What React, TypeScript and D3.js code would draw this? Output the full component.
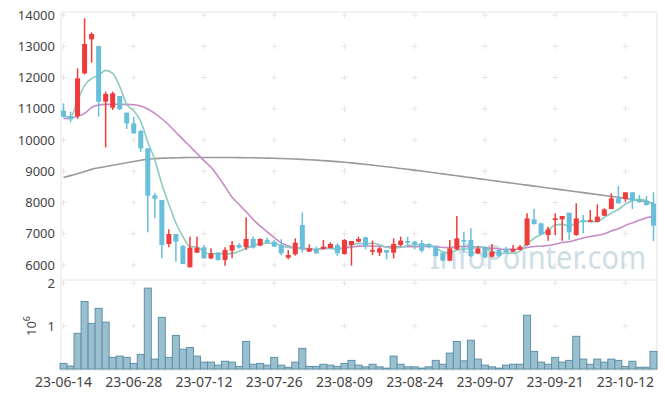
import React from 'react';
import * as d3 from 'd3';

// OHLC, one entry per trading day (23-06-14 .. 23-10-18)
const opens = [10939, 10768, 10760, 12133, 13221, 13008, 11227, 11035, 11408, 10875, 10533, 10288, 9733, 8229, 8080, 6672, 6992, 6608, 5925, 6395,
  6565, 6213, 6395, 6160, 6459, 6640, 6565, 6832, 6619, 6800, 6747, 6640, 6235, 6341, 7280, 6427, 6512, 6512, 6544, 6640,
  6352, 6640, 6747, 6885, 6427, 6395, 6480, 6395, 6640, 6768, 6747, 6693, 6672, 6587, 6395, 6139, 6501, 6800, 6800, 6373,
  6565, 6267, 6480, 6512, 6427, 6480, 6640, 7461, 7333, 6960, 7440, 7461, 7675, 6960, 7440, 7387, 7387, 7579, 7792, 8133,
  8112, 8325, 8059, 8059, 7968];
const highs = [11173, 10907, 12293, 13893, 13445, 13008, 11547, 11547, 11408, 10875, 10747, 10320, 9733, 8315, 8080, 7141, 6992, 6640, 6907, 6907,
  6640, 6533, 6400, 6565, 6768, 6693, 7525, 6907, 6860, 6875, 6800, 6821, 6480, 6853, 7685, 6661, 6587, 6800, 6725, 6693,
  6832, 6768, 6907, 6907, 6779, 6587, 6480, 6853, 6907, 6907, 6779, 6800, 6693, 6608, 6395, 6800, 7568, 7067, 7173, 6608,
  6608, 6672, 6500, 6587, 6640, 6640, 7653, 7792, 7355, 7227, 7653, 7568, 7675, 7973, 7600, 7760, 7941, 7813, 8293, 8528,
  8325, 8325, 8240, 8208, 8326];
const lows = [10715, 10565, 10680, 12100, 12475, 10747, 9765, 10960, 10960, 10352, 10200, 9627, 7045, 7493, 6213, 6565, 6107, 6032, 5925, 6395,
  6200, 6181, 6138, 5979, 6213, 6530, 6480, 6530, 6600, 6700, 6580, 6320, 6181, 6300, 6395, 6420, 6360, 6500, 6530, 6288,
  6330, 5979, 6720, 6501, 6320, 6288, 6181, 6213, 6600, 6608, 6501, 6395, 6530, 6270, 6120, 6120, 6480, 6427, 6260, 6350,
  6220, 6240, 6260, 6400, 6420, 6470, 6620, 7290, 6981, 6779, 6960, 6779, 6800, 6940, 7013, 7370, 7370, 7570, 7790, 7973,
  8027, 7792, 8000, 7900, 6768];
const closes = [10747, 10661, 11973, 13072, 13392, 11227, 11472, 11493, 10981, 10533, 10213, 9733, 8219, 8123, 6640, 6992, 6747, 6032, 6555, 6555,
  6213, 6373, 6160, 6480, 6640, 6555, 6832, 6555, 6832, 6715, 6587, 6373, 6320, 6715, 6533, 6533, 6373, 6587, 6672, 6373,
  6800, 6768, 6832, 6608, 6480, 6533, 6395, 6672, 6779, 6715, 6672, 6459, 6565, 6288, 6139, 6533, 6853, 6747, 6288, 6533,
  6245, 6427, 6288, 6405, 6512, 6587, 7493, 7312, 6981, 7141, 7493, 7568, 7045, 7493, 7387, 7440, 7547, 7781, 8133, 7973,
  8325, 8059, 8005, 7920, 7258];
const volumes = [130000, 70000, 830000, 1570000, 1060000, 1410000, 1090000, 270000, 300000, 270000, 130000, 340000, 1880000, 230000, 1200000, 270000, 780000, 460000, 500000, 300000,
  160000, 160000, 90000, 180000, 160000, 60000, 640000, 110000, 130000, 90000, 270000, 90000, 40000, 160000, 480000, 60000, 60000, 110000, 90000, 60000,
  130000, 200000, 90000, 50000, 110000, 50000, 20000, 300000, 110000, 50000, 50000, 20000, 50000, 200000, 110000, 370000, 640000, 190000, 670000, 230000,
  90000, 50000, 20000, 90000, 110000, 110000, 1250000, 410000, 160000, 110000, 270000, 160000, 200000, 760000, 230000, 110000, 230000, 160000, 230000, 200000,
  60000, 180000, 40000, 40000, 410000];

// moving average lines as drawn
const ma5 = [10760, 10740, 11260, 11750, 11969, 12065, 12227, 12131, 11713, 11141, 10938, 10591, 9936, 9364, 8586, 7941, 7344, 6907, 6593, 6576,
  6420, 6346, 6371, 6356, 6373, 6442, 6533, 6612, 6683, 6698, 6704, 6612, 6565, 6542, 6506, 6495, 6495, 6548, 6540, 6508,
  6561, 6640, 6689, 6676, 6698, 6644, 6570, 6538, 6572, 6619, 6647, 6659, 6638, 6540, 6425, 6397, 6476, 6512, 6512, 6591,
  6533, 6448, 6356, 6380, 6375, 6444, 6657, 6862, 6977, 7103, 7284, 7299, 7246, 7348, 7397, 7387, 7382, 7530, 7658, 7775,
  7952, 8054, 8099, 8056, 7913];
const ma20 = [10690, 10700, 10760, 10850, 11040, 11120, 11140, 11145, 11140, 11140, 11130, 11090, 10990, 10850, 10680, 10480, 10250, 10020, 9800, 9568,
  9341, 9127, 8836, 8507, 8169, 7935, 7703, 7457, 7249, 7058, 6877, 6709, 6614, 6544, 6538, 6515, 6497, 6524, 6530, 6521,
  6550, 6570, 6604, 6610, 6602, 6601, 6579, 6585, 6582, 6582, 6587, 6591, 6603, 6582, 6562, 6562, 6586, 6594, 6575, 6583,
  6555, 6538, 6511, 6501, 6502, 6505, 6560, 6592, 6602, 6623, 6664, 6720, 6744, 6804, 6867, 6912, 6947, 6998, 7091, 7163,
  7267, 7348, 7434, 7510, 7547];
const maLong = [8800, 8860, 8920, 8990, 9060, 9110, 9150, 9190, 9230, 9270, 9310, 9350, 9390, 9405, 9415, 9425, 9430, 9435, 9438, 9440,
  9440, 9440, 9440, 9440, 9438, 9436, 9433, 9430, 9425, 9420, 9414, 9407, 9400, 9390, 9380, 9368, 9355, 9340, 9325, 9308,
  9290, 9268, 9245, 9220, 9195, 9170, 9145, 9118, 9090, 9062, 9035, 9005, 8975, 8945, 8915, 8885, 8855, 8825, 8795, 8765,
  8735, 8705, 8675, 8645, 8615, 8585, 8555, 8525, 8495, 8465, 8435, 8405, 8375, 8345, 8315, 8285, 8255, 8225, 8195, 8165,
  8130, 8095, 8060, 8020, 7980];

const dateTickIdx = [0, 10, 20, 30, 40, 50, 60, 70, 80];
const dateTickLabels = ['23-06-14', '23-06-28', '23-07-12', '23-07-26', '23-08-09', '23-08-24', '23-09-07', '23-09-21', '23-10-12'];
const priceTicks = [6000, 7000, 8000, 9000, 10000, 11000, 12000, 13000, 14000];
const volTicks = [1000000, 2000000];
const volTickLabels = ['1', '2'];

const W = 665, H = 398;
const left = 61, right = 657, top = 12, split = 280, bottom = 370;
const font = '"Noto Sans", "Open Sans", sans-serif';
const UP = '#ef3b3b', DOWN = '#68bfd9';

export default function App() {
  const n = closes.length;
  const x = d3.scaleBand<number>().domain(d3.range(n)).range([60, 657]).padding(0);
  const cx = (i: number) => (x(i) as number) + x.bandwidth() / 2;
  const y = d3.scaleLinear().domain([6000, 14000]).range([265, 15]);
  const yv = d3.scaleLinear().domain([0, 2000000]).range([369, 283]);

  const line = (vals: number[]) => d3.line<number>().x((_, i) => cx(i)).y(d => y(d)).curve(d3.curveMonotoneX)(vals) || '';

  const cross = (px: number, py: number, k: string) => (
    <g key={k} stroke="#e6e6e6" strokeWidth={1}>
      <line x1={px - 3} x2={px + 3} y1={py} y2={py} />
      <line x1={px} x2={px} y1={py - 3} y2={py + 3} />
    </g>
  );

  const crosses: React.ReactNode[] = [];
  dateTickIdx.forEach((i) => {
    priceTicks.forEach((p) => crosses.push(cross(cx(i), y(p), `p${i}-${p}`)));
    volTicks.forEach((v) => crosses.push(cross(cx(i), yv(v), `v${i}-${v}`)));
  });

  return (
    <svg width={W} height={H} style={{ position: 'absolute', left: 0, top: 0, background: '#fff' }} fontFamily={font}>
      {/* frame */}
      <g stroke="#e6e6e6" strokeWidth={1} fill="none">
        <line x1={left} x2={right} y1={top} y2={top} />
        <line x1={left} x2={right} y1={split} y2={split} />
        <line x1={left} x2={right} y1={bottom} y2={bottom} />
        <line x1={left} x2={left} y1={top} y2={bottom} />
        <line x1={right} x2={right} y1={top} y2={bottom} />
      </g>
      {crosses}

      {/* watermark */}
      <text x={430} y={269} fontSize={32} fill="#c3d6e2" opacity={0.8} textLength={216} lengthAdjust="spacingAndGlyphs">InfoPointer.com</text>

      {/* moving averages */}
      <path d={line(maLong)} fill="none" stroke="#9a9a9a" strokeWidth={1.6} />
      <path d={line(ma20)} fill="none" stroke="#c88ac6" strokeWidth={1.6} />
      <path d={line(ma5)} fill="none" stroke="#8ccdbf" strokeWidth={1.6} />

      {/* candles */}
      {closes.map((c, i) => {
        const o = opens[i];
        const col = c >= o ? UP : DOWN;
        const yt = y(Math.max(o, c)), yb = y(Math.min(o, c));
        return (
          <g key={i}>
            <line x1={cx(i)} x2={cx(i)} y1={y(highs[i])} y2={y(lows[i])} stroke={col} strokeWidth={1.5} />
            <rect x={cx(i) - 2.5} y={yt} width={5} height={Math.max(1, yb - yt)} fill={col} />
          </g>
        );
      })}

      {/* volume */}
      {volumes.map((v, i) => (
        <rect key={i} x={x(i) as number} y={yv(v)} width={x.bandwidth()} height={yv(0) - yv(v)}
          fill="#9ac0cf" stroke="#5f91a9" strokeWidth={1} />
      ))}

      {/* axes text */}
      <g fontSize={13} fill="#444" textAnchor="end">
        {priceTicks.map((p) => (
          <text key={p} x={55} y={y(p)} dy="0.35em">{p}</text>
        ))}
        {volTicks.map((v, k) => (
          <text key={v} x={55} y={yv(v)} dy="0.35em">{volTickLabels[k]}</text>
        ))}
      </g>
      <text transform="translate(36,326) rotate(-90)" fontSize={13} fill="#444" textAnchor="middle">
        10<tspan fontSize={9} dy={-6}>6</tspan>
      </text>
      <g fontSize={14} fill="#444" textAnchor="middle">
        {dateTickIdx.map((i, k) => (
          <text key={i} x={cx(i)} y={387}>{dateTickLabels[k]}</text>
        ))}
      </g>
    </svg>
  );
}
